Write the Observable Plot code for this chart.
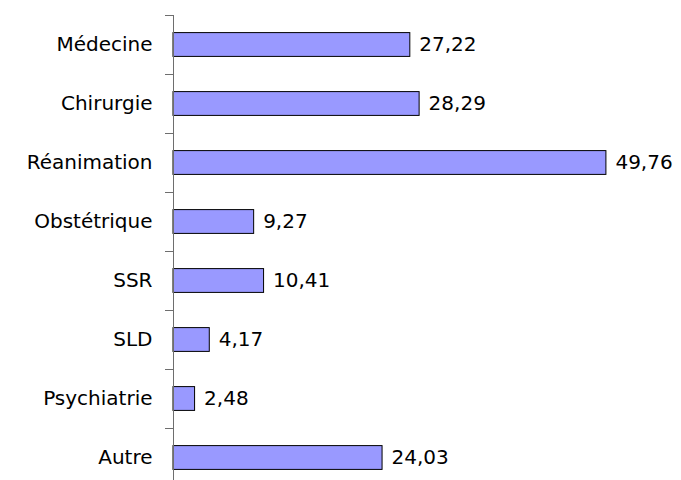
<!DOCTYPE html>
<html>
<head>
<meta charset="utf-8">
<script src="https://cdn.jsdelivr.net/npm/d3@7"></script>
<script src="https://cdn.jsdelivr.net/npm/@observablehq/plot@0.6"></script>
<style>
  html, body { margin: 0; padding: 0; background: white; }
</style>
</head>
<body>
<div id="chart"></div>
<script>
const categories = ["Médecine", "Chirurgie", "Réanimation", "Obstétrique", "SSR", "SLD", "Psychiatrie", "Autre"];
const values = [27.22, 28.29, 49.76, 9.27, 10.41, 4.17, 2.48, 24.03];

const data = categories.map((c, i) => ({category: c, value: values[i], i}));
const fmt = v => v.toFixed(2).replace(".", ",");
const font = "'Comic Sans MS', 'DejaVu Sans', sans-serif";

const chart = Plot.plot({
  width: 681,
  height: 480,
  marginLeft: 173,
  marginRight: 73,
  marginTop: 15,
  marginBottom: 0,
  style: {fontFamily: font, fontSize: "20px", background: "white", color: "black"},
  x: {domain: [0, 50], range: [173, 608], axis: null, label: null},
  y: {domain: [0, categories.length], range: [15, 487], axis: null, label: null},
  marks: [
    Plot.rectX(data, {
      x1: 0, x2: "value",
      y1: "i", y2: d => d.i + 1,
      insetTop: 17.6, insetBottom: 17.6,
      fill: "#9999ff", stroke: "black", strokeWidth: 1
    }),
    Plot.ruleX([0], {y1: 0, y2: categories.length, stroke: "#6e6e6e", strokeWidth: 1}),
    Plot.axisY({
      ticks: d3.range(0, categories.length + 1),
      tickFormat: () => "",
      tickSize: 8,
      stroke: "#6e6e6e",
      label: null
    }),
    Plot.axisY({
      ticks: d3.range(categories.length).map(i => i + 0.5),
      tickFormat: v => categories[Math.floor(v)],
      tickSize: 0,
      tickPadding: 21,
      fontSize: 20,
      fill: "black",
      label: null
    }),
    Plot.text(data, {
      x: "value", y: d => d.i + 0.5,
      text: d => fmt(d.value),
      textAnchor: "start", dx: 9,
      fontSize: 20, fill: "black"
    })
  ]
});
document.getElementById("chart").appendChild(chart);
</script>
</body>
</html>
